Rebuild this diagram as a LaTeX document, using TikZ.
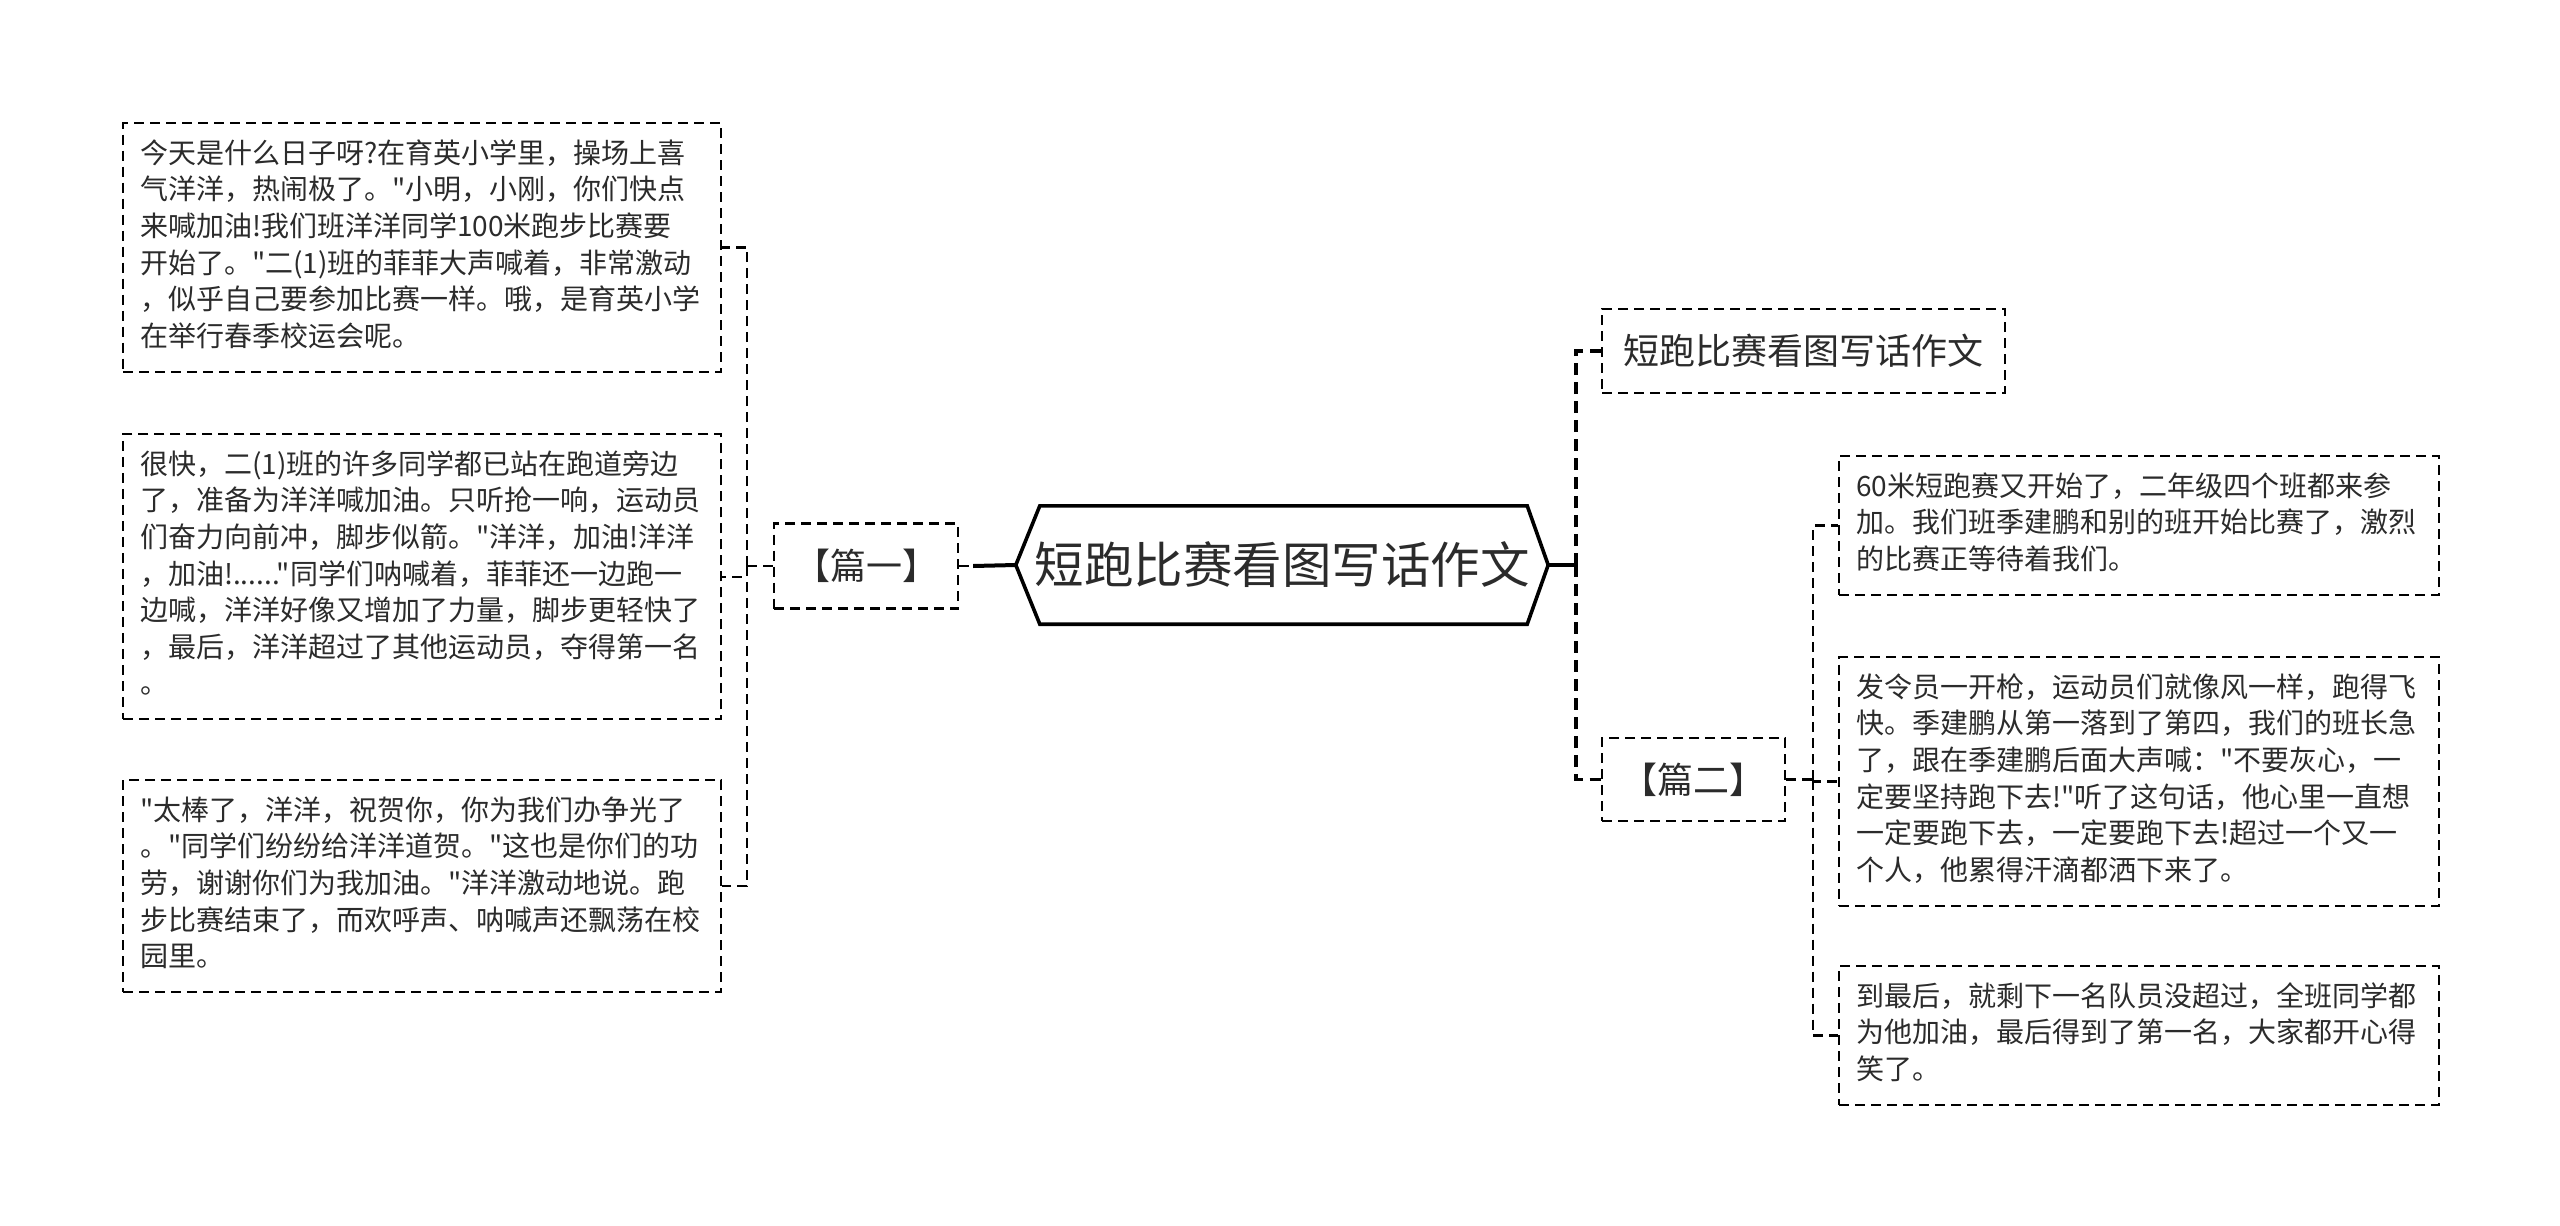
\documentclass[tikz,border=0pt]{standalone}
\usepackage{fontspec}
\setmainfont{Noto Sans CJK SC}[Ligatures=TeXOff]
\definecolor{txt}{HTML}{2B2B2B}
\tikzset{
  para/.style={draw=black, line width=2.2pt, dash pattern=on 10pt off 6pt, anchor=north west,
    text width=566pt, inner xsep=17pt, inner ysep=14.5pt, align=left, text=txt,
    font=\fontsize{28}{36.6}\selectfont},
  lbl/.style={draw=black, line width=2.2pt, dash pattern=on 10pt off 6pt, text=txt,
    font=\fontsize{36}{42}\selectfont, inner sep=0pt},
  dconn/.style={draw=black, line width=2.2pt, dash pattern=on 10pt off 6pt},
  dconnb/.style={draw=black, line width=3.6pt, dash pattern=on 12pt off 7pt},
  sconn/.style={draw=black, line width=4pt},
}
\begin{document}
\begin{tikzpicture}[x=1pt,y=-1pt]
\useasboundingbox (0,0) rectangle (2560,1226);
\fill[white] (0,0) rectangle (2560,1226);

% central node
\node[text=txt, font=\fontsize{49.5}{56}\selectfont, minimum width=532pt, minimum height=118pt, inner sep=0pt]
  (c) at (1282,565) {短跑比赛看图写话作文};
\draw[line width=3.6pt, line join=miter]
  (c.west) -- ([xshift=24pt]c.north west) -- ([xshift=-21pt]c.north east) -- (c.east)
  -- ([xshift=-21pt]c.south east) -- ([xshift=24pt]c.south west) -- cycle;

% left branch
\node[lbl, minimum width=184pt, minimum height=85pt] (p1) at (866,566) {【篇一】};
\node[para, text width=564pt] (b1) at (122,122) {\strut 今天是什么日子呀?在育英小学里，操场上喜\\气洋洋，热闹极了。"小明，小刚，你们快点\\来喊加油!我们班洋洋同学100米跑步比赛要\\开始了。"二(1)班的菲菲大声喊着，非常激动\\，似乎自己要参加比赛一样。哦，是育英小学\\在举行春季校运会呢。\strut};
\node[para, text width=564pt] (b2) at (122,433) {\strut 很快，二(1)班的许多同学都已站在跑道旁边\\了，准备为洋洋喊加油。只听抢一响，运动员\\们奋力向前冲，脚步似箭。"洋洋，加油!洋洋\\，加油!......"同学们呐喊着，菲菲还一边跑一\\边喊，洋洋好像又增加了力量，脚步更轻快了\\，最后，洋洋超过了其他运动员，夺得第一名\\。\strut};
\node[para, text width=564pt] (b3) at (122,779) {\strut "太棒了，洋洋，祝贺你，你为我们办争光了\\。"同学们纷纷给洋洋道贺。"这也是你们的功\\劳，谢谢你们为我加油。"洋洋激动地说。跑\\步比赛结束了，而欢呼声、呐喊声还飘荡在校\\园里。\strut};

\draw[sconn] ([xshift=14pt]p1.east) -- (c.west);
\draw[dconn] (p1.east) -- ([xshift=14pt]p1.east);
\coordinate (jl) at ([xshift=-26pt]p1.west);
\draw[dconn] (p1.west) -- (jl);
\draw[dconn] (jl) |- (b1.east);
\draw[dconn] (jl) |- (b2.east);
\draw[dconn] (jl) |- (b3.east);

% right branch
\coordinate (jr) at ([xshift=28pt]c.east);
\node[lbl, minimum width=403pt, minimum height=84pt] (rt) at (1803.5,351) {短跑比赛看图写话作文};
\node[lbl, minimum width=183pt, minimum height=83pt] (p2) at (1693.5,779.5) {【篇二】};
\draw[sconn] (c.east) -- (jr);
\draw[dconnb] (jr) |- (rt.west);
\draw[dconnb] (jr) |- (p2.west);

\node[para] (r1) at (1838,455) {\strut 60米短跑赛又开始了，二年级四个班都来参\\加。我们班季建鹏和别的班开始比赛了，激烈\\的比赛正等待着我们。\strut};
\node[para] (r2) at (1838,656) {\strut 发令员一开枪，运动员们就像风一样，跑得飞\\快。季建鹏从第一落到了第四，我们的班长急\\了，跟在季建鹏后面大声喊："不要灰心，一\\定要坚持跑下去!"听了这句话，他心里一直想\\一定要跑下去，一定要跑下去!超过一个又一\\个人，他累得汗滴都洒下来了。\strut};
\node[para] (r3) at (1838,965) {\strut 到最后，就剩下一名队员没超过，全班同学都\\为他加油，最后得到了第一名，大家都开心得\\笑了。\strut};

\coordinate (js) at ([xshift=27pt]p2.east);
\draw[dconn] (p2.east) -- (js);
\draw[dconn] (js) |- (r1.west);
\draw[dconn] (js) |- (r2.west);
\draw[dconn] (js) |- (r3.west);
\end{tikzpicture}
\end{document}
